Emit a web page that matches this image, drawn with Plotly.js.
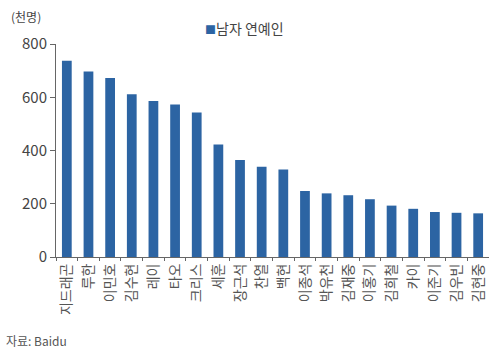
<!DOCTYPE html>
<html>
<head>
<meta charset="utf-8">
<script src="https://cdn.plot.ly/plotly-3.0.1.min.js"></script>
<style>html,body{margin:0;padding:0;background:#fff;}#chart{width:489px;height:359px;}</style>
</head>
<body>
<div id="chart"></div>
<script>
const categories = ["지드래곤","루한","이민호","김수현","레이","타오","크리스","세훈","장근석","찬열","백현","이종석","박유천","김재중","이홍기","김희철","카이","이준기","김우빈","김현중"];
const values = [737,697,672,611,586,573,543,423,364,339,329,248,239,232,217,193,181,169,166,164];
const yTicks = [0,200,400,600,800];
const seriesName = "남자 연예인";

const font = "'Noto Sans CJK KR', 'Noto Sans', sans-serif";
const barColor = "#2c64a3";

const trace = {
  type: "bar",
  x: categories,
  y: values,
  name: seriesName,
  marker: {color: barColor},
  showlegend: false,
  hoverinfo: "skip"
};

const layout = {
  width: 489, height: 359,
  margin: {l: 56, r: 0, t: 44, b: 102, pad: 0},
  paper_bgcolor: "#fff", plot_bgcolor: "#fff",
  bargap: 0.55,
  font: {family: font, size: 12, color: "#444"},
  xaxis: {
    type: "category",
    tickangle: -90,
    showline: true, linecolor: "#666", linewidth: 1,
    ticks: "outside", ticklen: 3, tickcolor: "#666", tickson: "boundaries",
    showgrid: false, zeroline: false,
    tickfont: {family: font, size: 14, color: "#555"},
    fixedrange: true
  },
  yaxis: {
    range: [0, 800],
    tickvals: yTicks,
    ticktext: yTicks.map(String),
    showline: true, linecolor: "#666", linewidth: 1,
    ticks: "outside", ticklen: 5, tickcolor: "#666",
    showgrid: false, zeroline: false,
    tickfont: {family: font, size: 15, color: "#444"},
    fixedrange: true
  },
  annotations: [
    {xref: "paper", yref: "paper", x: -0.108, y: 1.127, xanchor: "left", yanchor: "middle",
     text: "(천명)", showarrow: false, font: {family: font, size: 12, color: "#444"}},
    {xref: "paper", yref: "paper", x: 0.34, y: 1.075, xanchor: "left", yanchor: "middle",
     text: '<span style="color:' + barColor + ';font-size:11px">■</span>' + seriesName, showarrow: false,
     font: {family: font, size: 14, color: "#444"}},
    {xref: "paper", yref: "paper", x: -0.12, y: -0.39, xanchor: "left", yanchor: "middle",
     text: "자료: Baidu", showarrow: false, font: {family: font, size: 12, color: "#555"}}
  ]
};

Plotly.newPlot("chart", [trace], layout, {displayModeBar: false, staticPlot: true});
</script>
</body>
</html>
